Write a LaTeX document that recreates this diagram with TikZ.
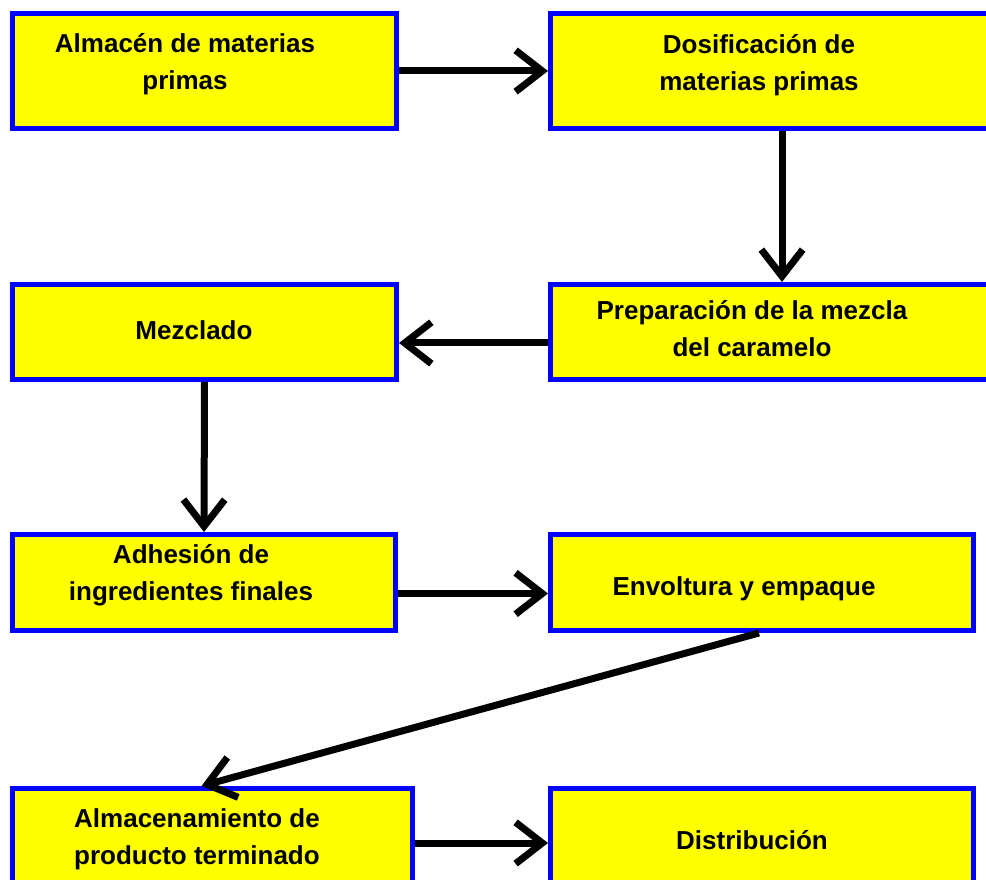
\documentclass[tikz,border=0pt]{standalone}
\usepackage{fontspec}
\setmainfont{Liberation Sans}
\usetikzlibrary{arrows.meta,calc}

\tikzset{
	caja/.style={draw={rgb,255:red,0;green,0;blue,255}, fill={rgb,255:red,255;green,255;blue,0}, line width=3.75pt, inner sep=0pt},
	texto/.style={align=center, inner sep=0.75pt, font=\fontsize{19.5}{27.75}\selectfont\bfseries},
	flecha/.style={line width=5.25pt, -{Straight Barb[length=20pt,width=31pt]}}
}

\begin{document}
\begin{tikzpicture}[x=0.75pt,y=0.75pt,yscale=-1]
			\clip (0,0) rectangle (986,880);
			\fill[white] (0,0) rectangle (986,880);
			
			%Cajas
			\node [caja, minimum width=288pt, minimum height=86.25pt] (alm) at (204.5,71) {};
			\node [caja, minimum width=329.25pt, minimum height=86.25pt] (dos) at (770,71) {};
			\node [caja, minimum width=288pt, minimum height=71.25pt] (mez) at (204.5,332) {};
			\node [caja, minimum width=329.25pt, minimum height=71.25pt] (pre) at (770,332) {};
			\node [caja, minimum width=287.25pt, minimum height=72pt] (adh) at (204,582.5) {};
			\node [caja, minimum width=317.25pt, minimum height=72pt] (env) at (762,582.5) {};
			\node [caja, minimum width=300pt, minimum height=71.25pt] (pro) at (212.5,836) {};
			\node [caja, minimum width=317.25pt, minimum height=71.25pt] (dis) at (762,836) {};
			
			% Text Node
			\node [texto] (alm-t) at (185,64) {Almacén de materias\\primas};
			% Text Node
			\node [texto] (dos-t) at (759,65) {Dosificación de\\materias primas};
			% Text Node
			\node [texto] (mez-t) at (194,330) {Mezclado};
			% Text Node
			\node [texto] (pre-t) at (752,328.5) {Preparación de la mezcla\\del caramelo};
			% Text Node
			\node [texto] (adh-t) at (191,575.5) {Adhesión de\\ingredientes finales};
			% Text Node
			\node [texto] (env-t) at (744,589) {Envoltura y empaque};
			% Text Node
			\node [texto] (pro-t) at (197,839.5) {Almacenamiento de\\producto terminado};
			% Text Node
			\node [texto] (dis-t) at (752,840) {Distribución};
			
			%Flechas
			\draw [flecha] (alm.east) -- (dos.west);
			\draw [flecha] ($(dos.south)+(12,0)$) -- ($(pre.north)+(12,0)$);
			\draw [flecha] ($(pre.west)+(0,11)$) -- ($(mez.east)+(0,11)$);
			\draw [flecha] (mez.south) -- (adh.north);
			\draw [flecha] ($(adh.east)+(0,11)$) -- ($(env.west)+(0,11)$);
			\draw [flecha] ($(env.south)+(-3,0)$) -- ($(pro.north)+(-11,0)$);
			\draw [flecha] ($(pro.east)+(0,7)$) -- ($(dis.west)+(0,7)$);
			
\end{tikzpicture}
\end{document}
